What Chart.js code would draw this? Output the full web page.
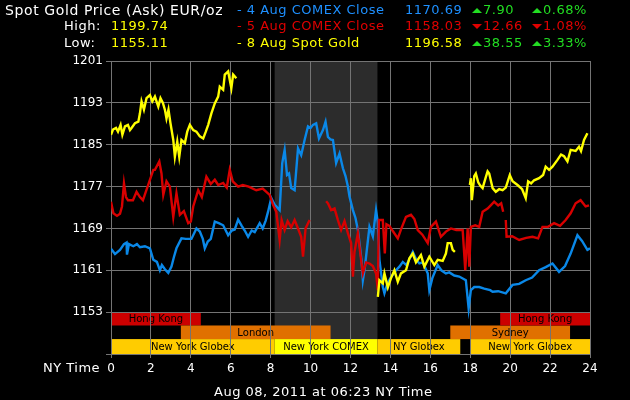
<!DOCTYPE html>
<html>
<head>
<meta charset="utf-8">
<script src="https://cdn.jsdelivr.net/npm/chart.js@4/dist/chart.umd.min.js"></script>
<style>
  html, body { margin: 0; padding: 0; background: #000; }
  #wrap { position: relative; width: 630px; height: 400px; overflow: hidden; font-family: "DejaVu Sans", sans-serif; }
  #c { position: absolute; left: 0; top: 0; }
  .t { position: absolute; white-space: nowrap; font-size: 13px; line-height: 16px; letter-spacing: 0.5px; }
  .w { color: #fff; }
  .b { color: #1e90ff; }
  .r { color: #e00000; }
  .y { color: #ffff00; }
  .g { color: #22dd22; }
  .up, .dn { display: inline-block; width: 0; height: 0; border-left: 5px solid transparent; border-right: 5px solid transparent; margin-right: 1px; vertical-align: 1px; }
  .up { border-bottom: 5px solid #22dd22; }
  .dn { border-top: 5px solid #e00000; }
</style>
</head>
<body>
<div id="wrap">
  <canvas id="c" width="630" height="400"></canvas>

  <div class="t w" style="left:5px;top:2px;font-size:14px;letter-spacing:0.6px;">Spot Gold Price (Ask) EUR/oz</div>
  <div class="t w" style="left:64px;top:18px;">High:</div>
  <div class="t y" style="left:111px;top:18px;">1199.74</div>
  <div class="t w" style="left:64px;top:35px;">Low:</div>
  <div class="t y" style="left:111px;top:35px;">1155.11</div>

  <div class="t b" style="left:237px;top:2px;">- 4 Aug COMEX Close</div>
  <div class="t b" style="left:405px;top:2px;">1170.69</div>
  <div class="t g" style="left:472px;top:2px;"><span class="up"></span>7.90</div>
  <div class="t g" style="left:532px;top:2px;"><span class="up"></span>0.68%</div>

  <div class="t r" style="left:237px;top:18px;">- 5 Aug COMEX Close</div>
  <div class="t r" style="left:405px;top:18px;">1158.03</div>
  <div class="t r" style="left:472px;top:18px;"><span class="dn"></span>12.66</div>
  <div class="t r" style="left:532px;top:18px;"><span class="dn"></span>1.08%</div>

  <div class="t y" style="left:237px;top:35px;">- 8 Aug Spot Gold</div>
  <div class="t y" style="left:405px;top:35px;">1196.58</div>
  <div class="t g" style="left:472px;top:35px;"><span class="up"></span>38.55</div>
  <div class="t g" style="left:532px;top:35px;"><span class="up"></span>3.33%</div>

  <div class="t w" style="left:43px;top:360px;">NY Time</div>
  <div class="t w" style="left:214px;top:384px;">Aug 08, 2011 at 06:23 NY Time</div>
</div>

<script>
// ---- data (hours NY time / EUR per oz) ----
const comex4Hours = [0, 0.2, 0.45, 0.65, 0.78, 0.8, 0.9, 1.12, 1.3, 1.45, 1.7, 1.95, 2.12, 2.3, 2.45, 2.55, 2.7, 2.87, 3.03, 3.15, 3.28, 3.53, 3.75, 4.03, 4.28, 4.45, 4.6, 4.7, 4.85, 5, 5.2, 5.4, 5.62, 5.87, 6.05, 6.2, 6.37, 6.55, 6.7, 6.87, 7.05, 7.2, 7.45, 7.6, 7.75, 7.87, 8.03, 8.2, 8.28, 8.45, 8.58, 8.7, 8.82, 8.92, 9.03, 9.2, 9.37, 9.53, 9.7, 9.87, 10, 10.12, 10.28, 10.42, 10.62, 10.75, 10.87, 11, 11.12, 11.28, 11.45, 11.62, 11.75, 11.87, 11.95, 12.12, 12.25, 12.37, 12.45, 12.55, 12.62, 12.7, 12.78, 12.95, 13.12, 13.28, 13.37, 13.45, 13.62, 13.7, 13.85, 14, 14.28, 14.45, 14.62, 14.8, 15, 15.12, 15.3, 15.45, 15.62, 15.8, 15.87, 15.95, 16.1, 16.37, 16.55, 16.78, 16.95, 17.2, 17.45, 17.78, 17.92, 18.03, 18.2, 18.45, 18.7, 19, 19.12, 19.4, 19.78, 20.12, 20.45, 20.78, 21.1, 21.45, 21.78, 22.12, 22.45, 22.75, 23.03, 23.37, 23.6, 23.87, 24];
const comex4Prices = [1165.1, 1164.1, 1164.9, 1166.0, 1166.3, 1164.0, 1166.0, 1165.6, 1166.0, 1165.4, 1165.6, 1165.2, 1163.0, 1162.6, 1161.0, 1162.0, 1161.2, 1160.5, 1161.7, 1163.5, 1165.2, 1167.1, 1167.0, 1167.0, 1169.0, 1168.4, 1167.0, 1165.2, 1166.5, 1167.0, 1170.3, 1170.0, 1169.6, 1167.7, 1168.6, 1168.8, 1170.7, 1169.5, 1168.6, 1167.4, 1168.6, 1168.3, 1170.0, 1169.0, 1170.5, 1172.2, 1174.8, 1173.5, 1173.2, 1172.5, 1181.5, 1184.0, 1179.2, 1179.5, 1176.7, 1176.3, 1184.3, 1183.0, 1185.9, 1188.5, 1188.2, 1188.8, 1189.1, 1186.2, 1187.8, 1189.4, 1186.5, 1186.0, 1185.9, 1181.5, 1183.3, 1180.5, 1179.0, 1177.0, 1175.1, 1172.5, 1171.0, 1168.7, 1166.2, 1163.0, 1159.1, 1161.0, 1163.6, 1169.3, 1167.5, 1172.5, 1170.0, 1163.0, 1157.8, 1156.6, 1158.5, 1159.5, 1161.0, 1161.7, 1162.6, 1162.0, 1163.5, 1164.5, 1163.0, 1162.3, 1162.5, 1161.0, 1160.4, 1157.2, 1159.5, 1162.0, 1161.0, 1160.4, 1160.6, 1160.0, 1159.8, 1159.1, 1153.7, 1157.2, 1157.8, 1157.8, 1157.5, 1157.2, 1156.9, 1157.0, 1156.6, 1158.2, 1158.4, 1159.1, 1159.6, 1161.0, 1161.6, 1162.3, 1160.7, 1161.8, 1164.2, 1167.7, 1166.6, 1164.9, 1165.2];

const comex5Hours = [0, 0.12, 0.3, 0.45, 0.55, 0.65, 0.75, 0.85, 1.1, 1.28, 1.45, 1.6, 1.7, 1.95, 2.12, 2.2, 2.42, 2.53, 2.62, 2.78, 2.95, 3.12, 3.28, 3.45, 3.65, 3.87, 4, 4.12, 4.37, 4.55, 4.78, 5, 5.2, 5.37, 5.62, 5.8, 5.95, 6.1, 6.37, 6.6, 6.9, 7.28, 7.6, 7.95, 8.12, 8.28, 8.45, 8.55, 8.7, 8.85, 9.03, 9.2, 9.37, 9.53, 9.62, 9.75, 9.95, 10.4, 10.78, 10.87, 11.03, 11.2, 11.37, 11.53, 11.7, 11.87, 12.03, 12.12, 12.2, 12.37, 12.53, 12.62, 12.78, 12.95, 13.12, 13.28, 13.37, 13.42, 13.62, 13.72, 13.8, 13.95, 14.12, 14.37, 14.55, 14.78, 15.03, 15.2, 15.37, 15.6, 15.87, 16.03, 16.28, 16.53, 16.78, 17.03, 17.3, 17.62, 17.75, 17.87, 17.95, 18.03, 18.25, 18.45, 18.62, 18.87, 19.05, 19.2, 19.4, 19.55, 19.65, 19.72, 19.78, 19.82, 20.1, 20.45, 20.8, 21.12, 21.4, 21.62, 21.9, 22.2, 22.5, 22.78, 23.03, 23.28, 23.53, 23.78, 23.95];
const comex5Prices = [1174.1, 1171.9, 1171.4, 1171.8, 1173.2, 1177.6, 1175.0, 1174.4, 1174.4, 1176.0, 1175.0, 1174.4, 1175.5, 1178.3, 1180.2, 1180.2, 1181.8, 1179.5, 1175.4, 1178.0, 1177.0, 1171.2, 1175.7, 1171.6, 1172.3, 1170.0, 1170.3, 1173.2, 1176.3, 1175.0, 1178.9, 1177.5, 1178.3, 1177.3, 1177.7, 1176.8, 1180.2, 1178.0, 1177.0, 1177.3, 1177.0, 1176.3, 1176.6, 1175.4, 1173.5, 1172.2, 1166.8, 1170.6, 1168.7, 1170.4, 1169.2, 1170.6, 1169.0, 1167.4, 1163.6, 1169.0, 1170.6, null, 1174.2, 1173.8, 1172.5, 1172.8, 1170.6, 1168.7, 1170.4, 1168.1, 1166.2, 1159.8, 1164.5, 1168.1, 1163.0, 1160.4, 1162.5, 1162.3, 1161.8, 1160.4, 1157.2, 1170.6, 1170.6, 1164.2, 1169.8, 1169.5, 1168.5, 1167.1, 1169.0, 1171.2, 1171.6, 1170.8, 1168.7, 1167.8, 1166.2, 1169.3, 1170.3, 1167.4, 1168.4, 1169.0, 1168.7, 1168.7, 1161.0, 1169.0, 1161.7, 1169.3, 1169.6, 1169.3, 1172.2, 1172.8, 1173.5, 1174.1, 1173.4, 1173.8, 1172.2, null, 1170.6, 1167.4, 1167.5, 1166.8, 1167.2, 1167.4, 1167.1, 1169.3, 1169.3, 1170.0, 1169.5, 1170.6, 1171.9, 1173.8, 1174.4, 1173.2, 1173.4];

const spot8Hours = [0, 0.1, 0.25, 0.35, 0.48, 0.57, 0.7, 0.85, 0.95, 1.03, 1.2, 1.37, 1.45, 1.53, 1.65, 1.78, 1.95, 2.07, 2.2, 2.37, 2.48, 2.6, 2.7, 2.78, 2.88, 2.98, 3.12, 3.2, 3.32, 3.42, 3.53, 3.7, 3.82, 3.95, 4.12, 4.28, 4.45, 4.62, 4.75, 4.87, 5.03, 5.2, 5.37, 5.45, 5.62, 5.7, 5.87, 6.03, 6.12, 6.28, 10, 13.37, 13.45, 13.62, 13.7, 13.87, 14.03, 14.2, 14.37, 14.53, 14.78, 14.95, 15.12, 15.28, 15.53, 15.7, 15.95, 16.2, 16.37, 16.62, 16.78, 16.87, 17.03, 17.12, 17.23, 17.6, 17.98, 18.03, 18.08, 18.2, 18.28, 18.4, 18.5, 18.62, 18.78, 18.87, 18.95, 19.12, 19.28, 19.45, 19.62, 19.78, 19.98, 20.12, 20.37, 20.6, 20.78, 20.9, 21.05, 21.2, 21.45, 21.65, 21.78, 21.95, 22.12, 22.37, 22.55, 22.7, 22.87, 23.03, 23.28, 23.45, 23.55, 23.7, 23.87];
const spot8Prices = [1186.9, 1187.9, 1188.2, 1187.5, 1188.8, 1186.9, 1188.5, 1188.8, 1187.8, 1188.2, 1189.1, 1189.4, 1191.0, 1193.3, 1191.7, 1193.9, 1194.5, 1193.3, 1194.2, 1192.3, 1193.9, 1193.0, 1191.7, 1190.0, 1191.7, 1189.1, 1185.9, 1182.7, 1185.6, 1182.7, 1185.9, 1185.3, 1187.5, 1188.8, 1187.8, 1187.5, 1186.6, 1186.2, 1187.5, 1188.8, 1191.0, 1192.9, 1194.2, 1196.1, 1195.5, 1198.4, 1199.0, 1195.8, 1198.4, 1197.7, null, 1155.9, 1159.1, 1158.5, 1160.4, 1157.7, 1159.5, 1161.0, 1158.8, 1160.4, 1161.0, 1163.3, 1164.2, 1162.5, 1163.9, 1161.7, 1163.6, 1162.0, 1163.0, 1162.8, 1164.2, 1166.2, 1166.2, 1164.9, 1164.5, null, 1177.3, 1178.6, 1174.4, 1179.0, 1179.5, 1177.8, 1177.2, 1176.7, 1178.8, 1179.9, 1179.5, 1176.7, 1176.0, 1176.5, 1176.3, 1176.8, 1179.2, 1178.0, 1177.3, 1176.5, 1174.8, 1178.0, 1177.6, 1178.2, 1178.6, 1179.2, 1180.8, 1180.2, 1180.8, 1182.1, 1183.1, 1182.8, 1181.8, 1184.0, 1183.8, 1184.6, 1183.8, 1185.9, 1187.2];

// trading sessions shown under the plot
const sessionNames = ['Hong Kong', 'London', 'New York Globex', 'New York COMEX', 'NY Globex', 'Sydney', 'New York Globex', 'Hong Kong'];
const sessionStart = [0, 3.5, 0, 8.2, 13.35, 17, 18, 19.5];
const sessionEnd   = [4.5, 11, 8.2, 13.35, 17.5, 23, 24, 24];
const sessionRow   = [0, 1, 2, 2, 2, 1, 2, 0];
const comexShade   = [8.2, 13.35];

const xTicks = [0, 2, 4, 6, 8, 10, 12, 14, 16, 18, 20, 22, 24];
const yTicks = [1153, 1161, 1169, 1177, 1185, 1193, 1201];

// styles
const sessionColors = ['#cc0000', '#e07000', '#ffcc00', '#ffff00', '#ffcc00', '#e07000', '#ffcc00', '#cc0000'];
const rowEdges = [1153, 1150.45, 1147.85, 1145];
const gridColor = '#747474';

function pts(hours, prices) {
    return hours.map((h, i) => ({ x: h, y: prices[i] }));
}

const sessionsPlugin = {
    id: 'sessions',
    beforeDraw(chart) {
        const ctx = chart.ctx;
        const xs = chart.scales.x, ys = chart.scales.y;
        ctx.save();
        // COMEX open shading
        const sx0 = xs.getPixelForValue(comexShade[0]);
        const sx1 = xs.getPixelForValue(comexShade[1]);
        ctx.fillStyle = '#2c2c2c';
        ctx.fillRect(sx0, ys.getPixelForValue(1201), sx1 - sx0, ys.getPixelForValue(1145) - ys.getPixelForValue(1201));

        ctx.font = '10px "DejaVu Sans"';
        ctx.textAlign = 'center';
        ctx.textBaseline = 'middle';
        sessionNames.forEach((name, i) => {
            const x0 = xs.getPixelForValue(sessionStart[i]);
            const x1 = xs.getPixelForValue(sessionEnd[i]);
            const y0 = ys.getPixelForValue(rowEdges[sessionRow[i]]);
            const y1 = ys.getPixelForValue(rowEdges[sessionRow[i] + 1]);
            ctx.fillStyle = sessionColors[i];
            ctx.fillRect(x0, y0, x1 - x0, y1 - y0);
            ctx.fillStyle = '#000';
            ctx.fillText(name, (x0 + x1) / 2, (y0 + y1) / 2 + 1);
        });
        ctx.restore();
    }
};

new Chart(document.getElementById('c'), {
    type: 'line',
    data: {
        datasets: [
            { label: '8 Aug Spot Gold', data: pts(spot8Hours, spot8Prices), borderColor: '#ffff00', order: 0 },
            { label: '5 Aug COMEX Close', data: pts(comex5Hours, comex5Prices), borderColor: '#d80000', order: 1 },
            { label: '4 Aug COMEX Close', data: pts(comex4Hours, comex4Prices), borderColor: '#0a88e8', order: 2 }
        ]
    },
    options: {
        responsive: false,
        animation: false,
        spanGaps: false,
        layout: { padding: { left: 0, top: 61, right: 40, bottom: 0 } },
        elements: {
            point: { radius: 0 },
            line: { borderWidth: 2.4, tension: 0 }
        },
        plugins: { legend: { display: false }, tooltip: { enabled: false } },
        scales: {
            x: {
                type: 'linear', min: 0, max: 24,
                afterFit: s => { s.height = 46; },
                afterBuildTicks: s => { s.ticks = xTicks.map(v => ({ value: v })); },
                ticks: { color: '#fff', font: { family: 'DejaVu Sans', size: 12 }, padding: 4, maxRotation: 0 },
                grid: { color: gridColor, tickLength: 4 },
                border: { color: gridColor }
            },
            y: {
                min: 1145, max: 1201,
                afterFit: s => { s.width = 111; },
                afterBuildTicks: s => { s.ticks = [1145].concat(yTicks).map(v => ({ value: v })); },
                ticks: {
                    color: '#fff', font: { family: 'DejaVu Sans', size: 12 }, padding: 3,
                    callback: v => (v === 1145 ? '' : v)
                },
                grid: { color: gridColor, tickLength: 5 },
                border: { color: gridColor }
            }
        }
    },
    plugins: [sessionsPlugin]
});
</script>
</body>
</html>
